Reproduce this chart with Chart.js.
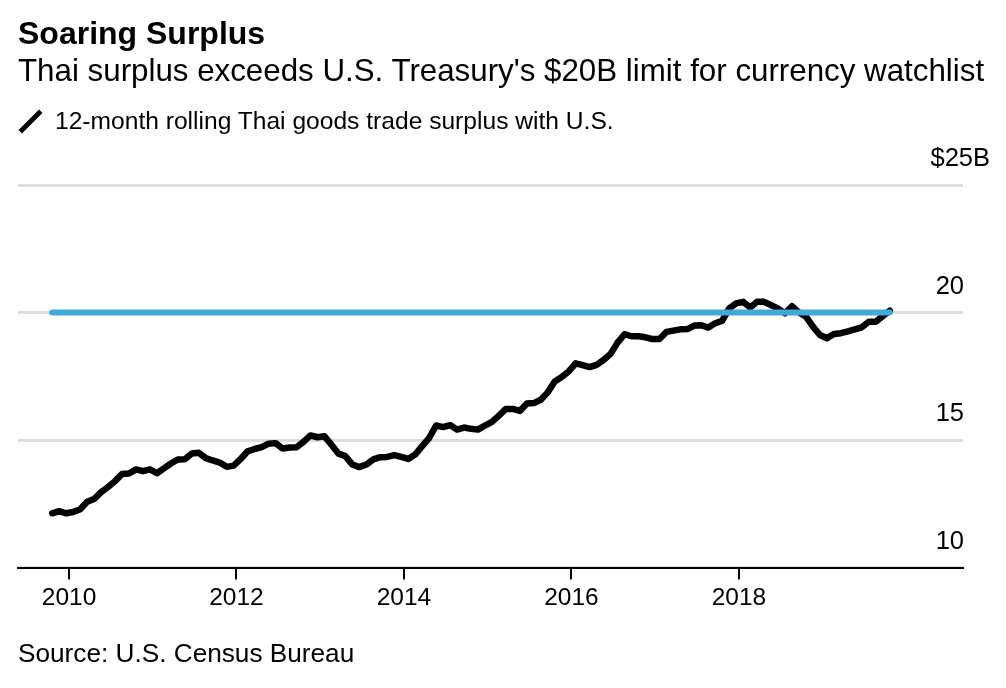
<!DOCTYPE html>
<html>
<head>
<meta charset="utf-8">
<script src="https://cdn.jsdelivr.net/npm/chart.js@4"></script>
<style>
  html, body { margin: 0; background: #fff; }
  body { width: 1006px; height: 688px; position: relative; overflow: hidden; font-family: "Liberation Sans", Arial, sans-serif; color: #000; }
  canvas { position: absolute; left: 0; top: 0; }
  .txt { position: absolute; left: 18px; white-space: nowrap; }
  #title { top: 15px; font-size: 32px; font-weight: bold; line-height: 36px; }
  #subtitle { top: 53px; font-size: 31.3px; line-height: 36px; }
  #legend { top: 107px; left: 55px; font-size: 24.6px; line-height: 28px; }
  #swatch { position: absolute; left: 16px; top: 119px; width: 29px; height: 5px; background: #000; transform: rotate(-45deg); transform-origin: center; }
  #source { top: 639px; font-size: 26.2px; line-height: 28px; }
</style>
</head>
<body>
<canvas id="chart" width="1006" height="688"></canvas>
<div class="txt" id="title">Soaring Surplus</div>
<div class="txt" id="subtitle">Thai surplus exceeds U.S. Treasury's $20B limit for currency watchlist</div>
<div id="swatch"></div>
<div class="txt" id="legend">12-month rolling Thai goods trade surplus with U.S.</div>
<div class="txt" id="source">Source: U.S. Census Bureau</div>
<script>
// monthly, Oct 2009 to Oct 2019, $B
const firstMonth = 2009.8
const surplus = [
  12.13, 12.21, 12.13, 12.18, 12.29, 12.58, 12.69, 12.96, 13.16, 13.39, 13.67, 13.69,
  13.85, 13.78, 13.85, 13.70, 13.89, 14.08, 14.24, 14.25, 14.47, 14.50, 14.29, 14.20,
  14.12, 13.95, 14.00, 14.26, 14.56, 14.65, 14.72, 14.86, 14.88, 14.67, 14.71, 14.72,
  14.93, 15.18, 15.11, 15.15, 14.82, 14.47, 14.37, 14.04, 13.94, 14.04, 14.24, 14.33,
  14.34, 14.41, 14.34, 14.26, 14.43, 14.76, 15.08, 15.57, 15.51, 15.59, 15.41, 15.49,
  15.44, 15.41, 15.57, 15.71, 15.96, 16.22, 16.22, 16.14, 16.43, 16.45, 16.58, 16.87,
  17.30, 17.47, 17.69, 18.01, 17.94, 17.86, 17.95, 18.14, 18.38, 18.82, 19.15, 19.07,
  19.07, 19.03, 18.96, 18.96, 19.24, 19.29, 19.34, 19.35, 19.49, 19.50, 19.41, 19.58,
  19.68, 20.16, 20.36, 20.42, 20.20, 20.42, 20.42, 20.29, 20.15, 19.97, 20.25, 20.00,
  19.84, 19.45, 19.12, 18.99, 19.16, 19.19, 19.26, 19.34, 19.42, 19.64, 19.64, 19.86,
  20.07
]
const limitValue = 20
const yearTicks = [2010, 2012, 2014, 2016, 2018]
const valueTicks = [10, 15, 20, 25]

const surplusPoints = surplus.map((v, i) => ({ x: firstMonth + i / 12, y: v }))
const limitPoints = [
  { x: firstMonth, y: limitValue },
  { x: firstMonth + (surplus.length - 1) / 12, y: limitValue }
]

const FONT = 'Liberation Sans'
// labels sit inside the plot, so the y axes take no room
const noWidth = axis => { axis.width = 0 }

new Chart(document.getElementById('chart'), {
  type: 'line',
  data: {
    datasets: [
      {
        label: '12-month rolling Thai goods trade surplus with U.S.',
        data: surplusPoints,
        borderColor: '#000',
        borderWidth: 6.5,
        borderJoinStyle: 'round',
        borderCapStyle: 'round',
        pointRadius: 0,
        tension: 0,
        order: 2
      },
      {
        label: '$20B limit',
        data: limitPoints,
        borderColor: '#3BABDF',
        borderWidth: 6,
        borderCapStyle: 'round',
        pointRadius: 0,
        order: 1
      }
    ]
  },
  options: {
    responsive: false,
    animation: false,
    devicePixelRatio: 1,
    layout: { padding: { top: 185, left: 18, right: 43, bottom: 71 } },
    plugins: { legend: false, tooltip: false, title: false },
    scales: {
      x: {
        type: 'linear',
        min: 2009.391,
        max: 2020.675,
        afterBuildTicks: axis => { axis.ticks = yearTicks.map(v => ({ value: v })) },
        border: { color: '#000', width: 2 },
        grid: { drawOnChartArea: false, color: '#000', lineWidth: 2, tickLength: 12 },
        ticks: {
          color: '#000',
          font: { family: FONT, size: 24.5 },
          padding: 4,
          maxRotation: 0,
          autoSkip: false,
          callback: v => String(v)
        }
      },
      y: {
        position: 'right',
        min: 10,
        max: 25,
        afterBuildTicks: axis => { axis.ticks = valueTicks.map(v => ({ value: v })) },
        afterFit: noWidth,
        border: { display: false },
        grid: { color: '#DDDDDD', lineWidth: 3, drawTicks: false },
        ticks: {
          mirror: true,
          padding: 1,
          labelOffset: -26,
          color: '#000',
          font: { family: FONT, size: 25.5 },
          callback: v => (v === 25 ? '' : String(v))
        }
      },
      // the top label carries $ and B, so it hangs past the others
      yTop: {
        position: 'right',
        min: 10,
        max: 25,
        afterBuildTicks: axis => { axis.ticks = [{ value: 25 }] },
        afterFit: noWidth,
        border: { display: false },
        grid: { display: false, drawTicks: false },
        ticks: {
          mirror: true,
          padding: 27,
          labelOffset: -26,
          color: '#000',
          font: { family: FONT, size: 25.5 },
          callback: v => '$' + v + 'B'
        }
      }
    }
  }
})
</script>
</body>
</html>
